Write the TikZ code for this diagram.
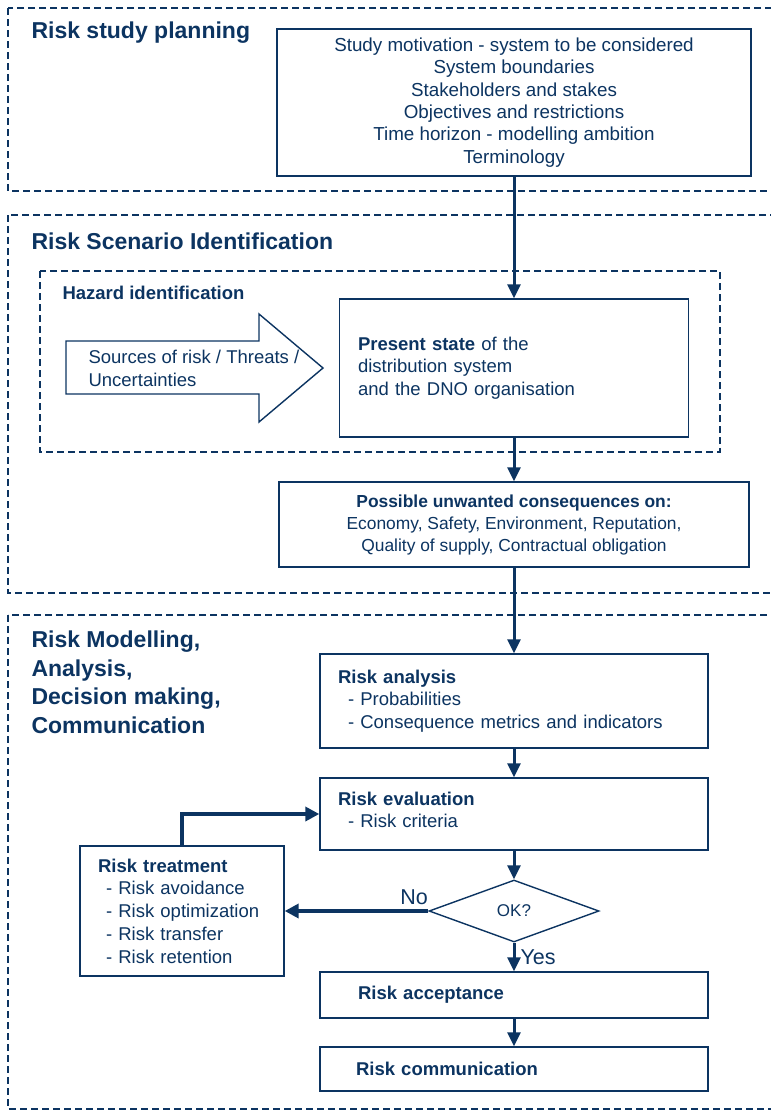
\documentclass[tikz,border=0pt]{standalone}
\usepackage{fontspec}
\setmainfont{Liberation Sans}
\usetikzlibrary{arrows.meta,shapes.geometric}
\definecolor{navy}{RGB}{12,52,97}
\begin{document}
\begin{tikzpicture}[x=1pt,y=-1pt,
  every node/.style={text=navy, font=\fontsize{18.5}{22.5}\selectfont},
  box/.style={draw=navy, line width=1.4pt, fill=white, inner sep=0pt},
  region/.style={draw=navy, line width=2.3pt, dash pattern=on 7pt off 4pt},
  arr/.style={draw=navy, line width=3pt, -{Triangle[length=14pt,width=13pt]}},
  thickarr/.style={draw=navy, line width=3.8pt, -{Triangle[length=14pt,width=14pt]}},
  head/.style={font=\fontsize{23}{28.5}\selectfont\bfseries, anchor=west, align=left},
  bigtext/.style={font=\fontsize{21.5}{24}\selectfont},
]
\useasboundingbox (0,0) rectangle (771,1111);
\clip (0,0) rectangle (771,1111);

% regions
\draw[region] (8,8) rectangle (790,191);
\draw[region] (8,215) rectangle (790,593);
\draw[region] (8,615) rectangle (790,1109);
\draw[region, line width=2.1pt] (40,271) rectangle (720,452);

% headings
\node[head] (h1) at (28,33) {Risk study planning};
\node[head] (h2) at (28,241) {Risk Scenario Identification};
\node[head] (h3) at (28,682.5) {Risk Modelling,\\Analysis,\\Decision making,\\Communication};
\node[font=\fontsize{18.5}{20}\selectfont\bfseries, anchor=west] (hz) at (59,293) {Hazard identification};

% planning box
\node[box, minimum width=474pt, minimum height=147pt, align=center,
      font=\fontsize{18.8}{22.4}\selectfont] (plan) at (514,102.5)
  {Study motivation - system to be considered\\System boundaries\\Stakeholders and stakes\\Objectives and restrictions\\Time horizon - modelling ambition\\Terminology};

% big arrow of sources
\draw[navy, line width=1.4pt, fill=white] (66,341) -- (259,341) -- (259,314) -- (323,368)
  -- (259,422) -- (259,394) -- (66,394) -- cycle;
\node[anchor=west, align=left] (src) at (85,368.5) {Sources of risk / Threats /\\Uncertainties};

% present state
\node[box, minimum width=349pt, minimum height=138pt, text width=312pt, align=left] (pres) at (514,368)
  {\textbf{Present state} of the\\distribution system\\and the DNO organisation};

% consequences
\node[box, minimum width=470pt, minimum height=85pt, align=center,
      font=\fontsize{17.4}{22}\selectfont] (cons) at (514,524.5)
  {\textbf{Possible unwanted consequences on:}\\Economy, Safety, Environment, Reputation,\\Quality of supply, Contractual obligation};

% risk analysis
\node[box, minimum width=388pt, minimum height=94pt, text width=352pt, align=left] (ana) at (514,701)
  {\textbf{Risk analysis}\\\hspace*{10pt}- Probabilities\\\hspace*{10pt}- Consequence metrics and indicators};

% risk evaluation
\node[box, minimum width=388pt, minimum height=72pt, text width=352pt, align=left] (eval) at (514,814)
  {\textbf{Risk evaluation}\\\hspace*{10pt}- Risk criteria\rule[-8pt]{0pt}{0pt}};

% risk treatment
\node[box, minimum width=204pt, minimum height=130pt, text width=168pt, align=left,
      font=\fontsize{18.5}{22.7}\selectfont] (treat) at (182,911)
  {\textbf{Risk treatment}\\\hspace*{8pt}- Risk avoidance\\\hspace*{8pt}- Risk optimization\\\hspace*{8pt}- Risk transfer\\\hspace*{8pt}- Risk retention};

% decision
\node[draw=navy, line width=1.4pt, fill=white, diamond, aspect=2.7, inner sep=0pt,
      minimum width=170pt, minimum height=62pt, font=\fontsize{17}{20}\selectfont] (ok) at (514,911) {OK?};

% acceptance, communication
\node[box, minimum width=388pt, minimum height=46pt, text width=312pt, align=left] (acc) at (514,995)
  {\textbf{Risk acceptance}};
\node[box, minimum width=388pt, minimum height=44pt, text width=316pt, align=left] (com) at (514,1069)
  {\textbf{Risk communication}};

% connectors
\draw[arr] (plan.south) -- (pres.north);
\draw[arr] (pres.south) -- (cons.north);
\draw[arr] (cons.south) -- (ana.north);
\draw[arr] (ana.south) -- (eval.north);
\draw[arr] (eval.south) -- (ok.north);
\draw[arr] (ok.south) -- (acc.north);
\draw[arr] (acc.south) -- (com.north);
\draw[thickarr] (ok.west) -- (treat.east);
\draw[thickarr] (treat.north) |- (eval.west);

\node[bigtext] (no) at (414,897) {No};
\node[bigtext, anchor=west] (yes) at (517,957) {Yes};
\end{tikzpicture}
\end{document}
